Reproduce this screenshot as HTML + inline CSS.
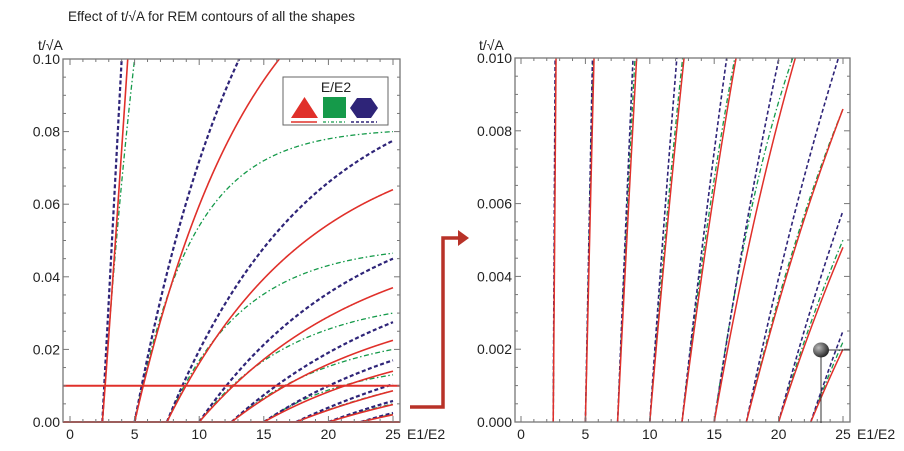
<!DOCTYPE html>
<html><head><meta charset="utf-8"><style>
body{margin:0;background:#fff;width:904px;height:451px;overflow:hidden}
svg{display:block}
text{font-family:"Liberation Sans",sans-serif;fill:#222}
</style></head><body>
<svg id="s" width="904" height="451" xmlns="http://www.w3.org/2000/svg">
<defs>
<clipPath id="cl"><rect x="63" y="59" width="337" height="364"/></clipPath>
<clipPath id="cr"><rect x="515" y="58" width="335" height="365"/></clipPath>
<radialGradient id="bg" cx="0.35" cy="0.35" r="0.7"><stop offset="0" stop-color="#bbb"/><stop offset="1" stop-color="#222"/></radialGradient>
</defs>
<text x="68" y="21" font-size="13.5">Effect of t/√A for REM contours of all the shapes</text>
<text x="38" y="50" font-size="14">t/√A</text>
<text x="479" y="50" font-size="14">t/√A</text>
<g id="L"></g><g id="R"></g>
<g id="legend">
<rect x="283" y="77" width="105" height="48" fill="#fff" stroke="#666" stroke-width="1"/>
<text x="336" y="92" font-size="14" text-anchor="middle">E/E2</text>
<polygon points="291,118 318,118 304.5,97" fill="#e0302a"/>
<rect x="323" y="97" width="23" height="21" fill="#159a4a"/>
<polygon points="357,98 371,98 378,108 371,118 357,118 350,108" fill="#2e2478"/>
<line x1="291" y1="122" x2="317" y2="122" stroke="#e0302a" stroke-width="1.5"/>
<line x1="323" y1="122" x2="346" y2="122" stroke="#159a4a" stroke-width="1.3" stroke-dasharray="3,2,1,2"/>
<line x1="351" y1="122" x2="377" y2="122" stroke="#2e2478" stroke-width="1.6" stroke-dasharray="3,2"/>
</g>
<path d="M410,407 H443 V238 H459" fill="none" stroke="#b83228" stroke-width="3.5"/>
<polygon points="458,230 469,238 458,246" fill="#b83228"/>
<line x1="821" y1="350" x2="821" y2="423" stroke="#333" stroke-width="1"/>
<line x1="828" y1="350" x2="850" y2="350" stroke="#333" stroke-width="1"/>
<ellipse cx="821" cy="350" rx="8" ry="7.5" fill="url(#bg)"/>
</svg>
<script>
var NS="http://www.w3.org/2000/svg";
function el(p,t,a,txt){var e=document.createElementNS(NS,t);for(var k in a)e.setAttribute(k,a[k]);if(txt!=null)e.textContent=txt;p.appendChild(e);return e;}
var RED="#e0302a",GRN="#159a4a",BLU="#2e2478";
function powFit(d1,y1,de,ye){var p=Math.log(ye/y1)/Math.log(de/d1);var c=y1/Math.pow(d1,p);return function(d){return d<=0?0:c*Math.pow(d,p);};}
function expL(de,ye,L){var A=ye/(1-Math.exp(-de/L));return function(d){return d<=0?0:A*(1-Math.exp(-d/L));};}
function expFit(d1,y1,de,ye){var r=ye/y1;if(r>=de/d1*0.995)return powFit(d1,y1,de,ye);
 var lo=0.01,hi=5000;for(var i=0;i<200;i++){var L=(lo+hi)/2;var v=(1-Math.exp(-de/L))/(1-Math.exp(-d1/L));if(v<r)lo=L;else hi=L;}
 var L=(lo+hi)/2,A=y1/(1-Math.exp(-d1/L));return function(d){return d<=0?0:A*(1-Math.exp(-d/L));};}
var red=[[2.5,expFit(0.22,.01,1.97,.1)],[5,expFit(0.67,.01,11.2,.1)],[7.5,expFit(1.48,.01,17.5,.064)],[10,expFit(2.66,.01,15,.037)],[12.5,expFit(4.2,.01,12.5,.0225)],[15,expFit(6.3,.01,10,.014)],[17.5,expL(7.5,.0086,18)],[20,expL(5,.0048,18)],[22.5,expL(2.5,.002,18)]];
var blu=[[2.5,expFit(0.15,.01,1.5,.1)],[5,expFit(0.55,.01,8.1,.1)],[7.5,expFit(1.2,.01,17.5,.0775)],[10,expFit(2.1,.01,15,.045)],[12.5,expFit(3.47,.01,12.5,.0275)],[15,expFit(5.03,.01,10,.017)],[17.5,expL(7.5,.0104,18)],[20,expL(5,.0058,18)],[22.5,expL(2.5,.0025,18)]];
var grn=[[2.5,expFit(0.2,.01,2.5,.1)],[5,expFit(0.6,.01,20,.08)],[7.5,expFit(1.35,.01,17.5,.0465)],[10,expFit(2.55,.01,15,.030)],[12.5,expFit(4.1,.01,12.5,.020)],[15,expFit(6.1,.01,10,.013)],[17.5,expL(7.5,.0086,14)],[20,expL(5,.005,14)],[22.5,expL(2.5,.0022,14)]];
function plot(g,o){
 var X=function(x){return o.x0+x*o.sx;},Y=function(y){return o.yb-y/o.ymax*(o.yb-o.yt);};
 var cg=el(g,"g",{"clip-path":"url(#"+o.clip+")"});
 function draw(set,col,sw,dash){set.forEach(function(c){var d="";for(var i=0;i<=800;i++){var x=c[0]+(25-c[0])*i/800;var y=c[1](x-c[0]);d+=(i?"L":"M")+X(x).toFixed(2)+","+Y(y).toFixed(2);if(y>o.ymax*1.05)break;}
  var a={d:d,fill:"none",stroke:col,"stroke-width":sw};if(dash)a["stroke-dasharray"]=dash;el(cg,"path",a);});}
 draw(grn,GRN,o.gw,"5,2.5,1.5,2.5");draw(blu,BLU,o.bw,"4,2.5");draw(red,RED,o.rw,null);
 if(o.hline){el(g,"line",{x1:o.fx0,x2:o.fx1,y1:Y(.01),y2:Y(.01),stroke:RED,"stroke-width":2});el(g,"line",{x1:o.fx0,x2:o.fx1,y1:Y(0),y2:Y(0),stroke:RED,"stroke-width":2});}
 el(g,"rect",{x:o.fx0,y:o.yt,width:o.fx1-o.fx0,height:o.yb-o.yt,fill:"none",stroke:"#777","stroke-width":1.3});
 for(var x=0;x<=25;x++){var maj=x%5==0,len=maj?6:3;el(g,"line",{x1:X(x),x2:X(x),y1:o.yb,y2:o.yb-len,stroke:"#777"});el(g,"line",{x1:X(x),x2:X(x),y1:o.yt,y2:o.yt+len,stroke:"#777"});
  if(maj)el(g,"text",{x:X(x),y:o.yb+17,"font-size":14,"text-anchor":"middle"},String(x));}
 el(g,"text",{x:X(25)+14,y:o.yb+17,"font-size":14},"E1/E2");
 var n=20;for(var i=0;i<=n;i++){var v=o.ymax*i/n,maj=i%4==0,len=maj?6:3;var yy=Y(v);el(g,"line",{x1:o.fx0,x2:o.fx0+len,y1:yy,y2:yy,stroke:"#777"});el(g,"line",{x1:o.fx1,x2:o.fx1-len,y1:yy,y2:yy,stroke:"#777"});
  if(i%4==0)el(g,"text",{x:o.fx0-3,y:yy+5,"font-size":14,"text-anchor":"end"},v.toFixed(o.dec));}
}
plot(document.getElementById("L"),{x0:70,sx:12.92,yt:59,yb:422,ymax:0.1,fx0:63,fx1:400,clip:"cl",rw:1.6,bw:2.2,gw:1.3,hline:true,dec:2});
plot(document.getElementById("R"),{x0:521,sx:12.88,yt:58,yb:422,ymax:0.01,fx0:515,fx1:850,clip:"cr",rw:1.5,bw:1.6,gw:1.3,hline:false,dec:3});
</script>
</body></html>
